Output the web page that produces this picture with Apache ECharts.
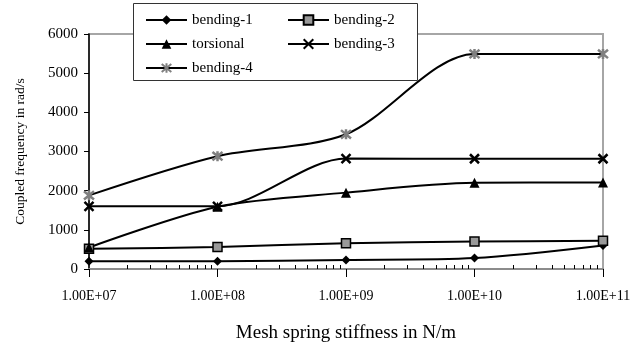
<!DOCTYPE html>
<html>
<head>
<meta charset="utf-8">
<script src="https://cdn.jsdelivr.net/npm/echarts@6/dist/echarts.min.js"></script>
<style>
  html, body { margin: 0; padding: 0; background: #fff; }
  #chart { width: 638px; height: 344px; }
</style>
</head>
<body>
<div id="chart"></div>
<script>
// stiffness values (N/m) and coupled frequencies (rad/s)
const stiffness = [1e7, 1e8, 1e9, 1e10, 1e11];
const bending1 = [200, 200, 230, 280, 600];
const bending2 = [520, 560, 660, 700, 720];
const torsional = [550, 1590, 1950, 2200, 2210];
const bending3 = [1600, 1600, 2820, 2815, 2815];
const bending4 = [1880, 2880, 3440, 5490, 5490];
const xTickLabels = ['1.00E+07', '1.00E+08', '1.00E+09', '1.00E+10', '1.00E+11'];
const yTicks = [0, 1000, 2000, 3000, 4000, 5000, 6000];

// log minor tick positions 2..9 inside each decade
const minorTicks = [];
for (let d = 7; d < 11; d++) {
  for (let k = 2; k <= 9; k++) minorTicks.push(k * Math.pow(10, d));
}

const FONT = 'Liberation Serif';
const crossPath = 'path://M0 0L10 10M10 0L0 10';
const starPath = 'path://M0 0L10 10M10 0L0 10M5 -1L5 11';

function pairs(vals) {
  return stiffness.map((x, i) => [x, vals[i]]);
}

function mkSeries(name, vals, symbol, size, itemStyle) {
  return {
    name: name,
    type: 'line',
    smooth: 0.3,
    data: pairs(vals),
    symbol: symbol,
    symbolSize: size,
    showSymbol: true,
    lineStyle: { color: '#000', width: 2 },
    itemStyle: itemStyle,
    z: 3
  };
}

const chart = echarts.init(document.getElementById('chart'), null, { renderer: 'canvas' });

const legendText = { fontFamily: FONT, fontSize: 15, color: '#000', lineHeight: 16 };

const option = {
  animation: false,
  backgroundColor: '#fff',
  textStyle: { fontFamily: FONT, color: '#000' },
  grid: {
    left: 89, right: 35, top: 34, bottom: 75,
    outerBoundsMode: 'none',
    containLabel: false,
    show: true,
    borderColor: '#a6a6a6',
    borderWidth: 2
  },
  graphic: [{
    type: 'rect',
    shape: { x: 133.5, y: 3.5, width: 284, height: 77 },
    style: { fill: '#fff', stroke: '#333', lineWidth: 1 },
    z: 50
  }],
  legend: [{
    data: ['bending-1', 'torsional', 'bending-4'],
    orient: 'vertical',
    left: 145, top: 12,
    padding: 0,
    itemWidth: 41, itemHeight: 12,
    itemGap: 8,
    textStyle: legendText,
    z: 60
  }, {
    data: ['bending-2', 'bending-3'],
    orient: 'vertical',
    left: 287, top: 12,
    padding: 0,
    itemWidth: 41, itemHeight: 12,
    itemGap: 8,
    textStyle: legendText,
    z: 60
  }],
  xAxis: [{
    type: 'log',
    logBase: 10,
    min: stiffness[0],
    max: stiffness[stiffness.length - 1],
    name: 'Mesh spring stiffness in N/m',
    nameLocation: 'middle',
    nameGap: 55,
    nameTextStyle: { fontFamily: FONT, fontSize: 19, color: '#000' },
    axisLine: { lineStyle: { color: '#8c8c8c', width: 2 } },
    axisTick: { inside: false, length: 8, lineStyle: { color: '#000', width: 1 } },
    axisLabel: {
      fontFamily: FONT, fontSize: 14, color: '#000', margin: 20,
      formatter: v => xTickLabels[Math.round(Math.log10(v)) - 7]
    },
    splitLine: { show: false }
  }, {
    type: 'log',
    logBase: 10,
    gridIndex: 0,
    position: 'bottom',
    min: stiffness[0],
    max: stiffness[stiffness.length - 1],
    axisLine: { show: false },
    axisTick: { inside: true, length: 4, customValues: minorTicks, lineStyle: { color: '#000', width: 1 } },
    axisLabel: { show: false },
    splitLine: { show: false }
  }],
  yAxis: {
    type: 'value',
    min: yTicks[0],
    max: yTicks[yTicks.length - 1],
    interval: 1000,
    name: 'Coupled frequency in rad/s',
    nameLocation: 'middle',
    nameGap: 62,
    nameTextStyle: { fontFamily: FONT, fontSize: 13.5, color: '#000' },
    axisLine: { show: true, lineStyle: { color: '#000', width: 1.5 } },
    axisTick: { show: true, inside: false, length: 5, lineStyle: { color: '#000' } },
    axisLabel: {
      fontFamily: FONT, fontSize: 15, color: '#000', margin: 11,
      formatter: v => String(v)
    },
    splitLine: { show: false }
  },
  series: [
    mkSeries('bending-1', bending1, 'diamond', 9, { color: '#000' }),
    mkSeries('bending-2', bending2, 'rect', 9, { color: '#999', borderColor: '#000', borderWidth: 1.5 }),
    mkSeries('torsional', torsional, 'triangle', 10, { color: '#000' }),
    mkSeries('bending-3', bending3, crossPath, 9, { color: '#000', borderColor: '#000', borderWidth: 2.5 }),
    mkSeries('bending-4', bending4, starPath, 10, { color: '#808080', borderColor: '#808080', borderWidth: 2.5 })
  ]
};

chart.setOption(option);
</script>
</body>
</html>
